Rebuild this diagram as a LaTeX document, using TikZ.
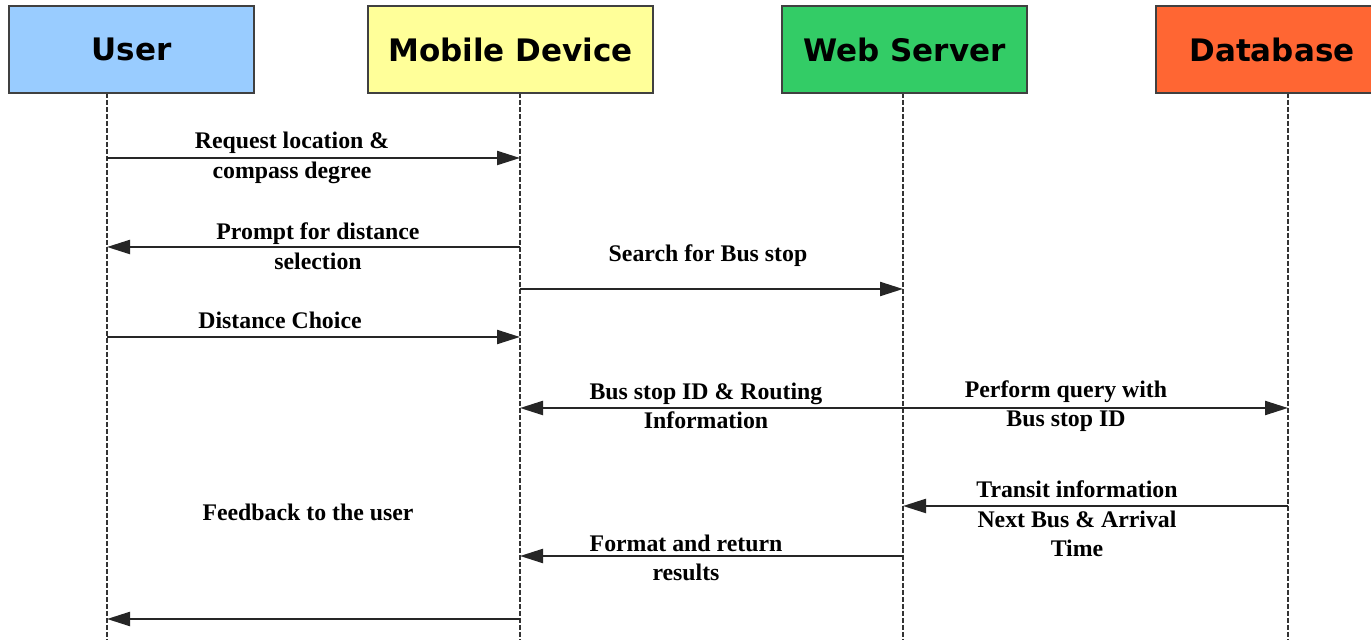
\documentclass[tikz,border=0pt]{standalone}
\usepackage{fontspec}
\setmainfont{Liberation Serif}
\newfontfamily\headfont{DejaVu Sans}
\usetikzlibrary{arrows.meta}
\definecolor{userblue}{RGB}{153,204,255}
\definecolor{mobileyellow}{RGB}{255,255,153}
\definecolor{servergreen}{RGB}{51,204,102}
\definecolor{dborange}{RGB}{255,102,51}

\begin{document}
\begin{tikzpicture}[x=0.5pt, y=-0.5pt,
    header/.style={draw=black!75, line width=1pt, minimum height=43.5pt, inner sep=0pt,
        font=\headfont\bfseries\fontsize{15.5}{18}\selectfont},
    lifeline/.style={draw=black!80, line width=0.6pt, dash pattern=on 2.5pt off 1pt},
    msg/.style={line width=1.1pt, draw=black!85, -{Triangle[length=11.5pt,width=7pt]}},
    msglabel/.style={align=center, inner sep=0pt,
        font=\bfseries\fontsize{11.9}{14.75}\selectfont}]

    \useasboundingbox (0,0) rectangle (1371,640);
    \fill[white] (0,0) rectangle (1371,640);

    % Lifelines and message levels
    \foreach \l/\x in {u/107, m/520, w/903, d/1288} {
        \coordinate (\l top) at (\x,93);
        \coordinate (\l end) at (\x,640);
        \foreach \n/\y in {1/158, 2/247, 3/289, 4/337, 5/408, 6/506, 7/556, 8/619} {
            \coordinate (\l\n) at (\x,\y);
        }
    }
    \foreach \l in {u, m, w, d} {
        \draw[lifeline] (\l top) -- (\l end);
    }

    % Header boxes
    \node[header, fill=userblue, minimum width=122.5pt] (user) at (131.5,49.5) {User};
    \node[header, fill=mobileyellow, minimum width=142.5pt] (mobile) at (510.5,49.5) {Mobile Device};
    \node[header, fill=servergreen, minimum width=122.5pt] (server) at (904.5,49.5) {Web Server};
    \node[header, fill=dborange, minimum width=116pt] (db) at (1272,49.5) {Database};

    % Messages
    \draw[msg] (u1) -- (m1);
    \draw[msg] (m2) -- (u2);
    \draw[msg] (m3) -- (w3);
    \draw[msg] (u4) -- (m4);
    \draw[msg] (w5) -- (m5);
    \draw[msg] (w5) -- (d5);
    \draw[msg] (d6) -- (w6);
    \draw[msg] (w7) -- (m7);
    \draw[msg] (m8) -- (u8);

    % Message texts
    \node[msglabel] (reqlbl) at (292,158) {Request location \&\\compass degree};
    \node[msglabel] (promptlbl) at (318,246) {Prompt for distance\\selection};
    \node[msglabel] (searchlbl) at (708,256) {Search for Bus stop};
    \node[msglabel] (choicelbl) at (280,320) {Distance Choice};
    \node[msglabel] (routelbl) at (706,406) {Bus stop ID \& Routing\\Information};
    \node[msglabel] (querylbl) at (1066,406) {Perform query with\\Bus stop ID};
    \node[msglabel] (transitlbl) at (1077,519) {Transit information\\Next Bus \& Arrival\\Time};
    \node[msglabel] (formatlbl) at (686,558) {Format and return\\results};
    \node[msglabel] (feedbacklbl) at (308,512) {Feedback to the user};

\end{tikzpicture}
\end{document}
